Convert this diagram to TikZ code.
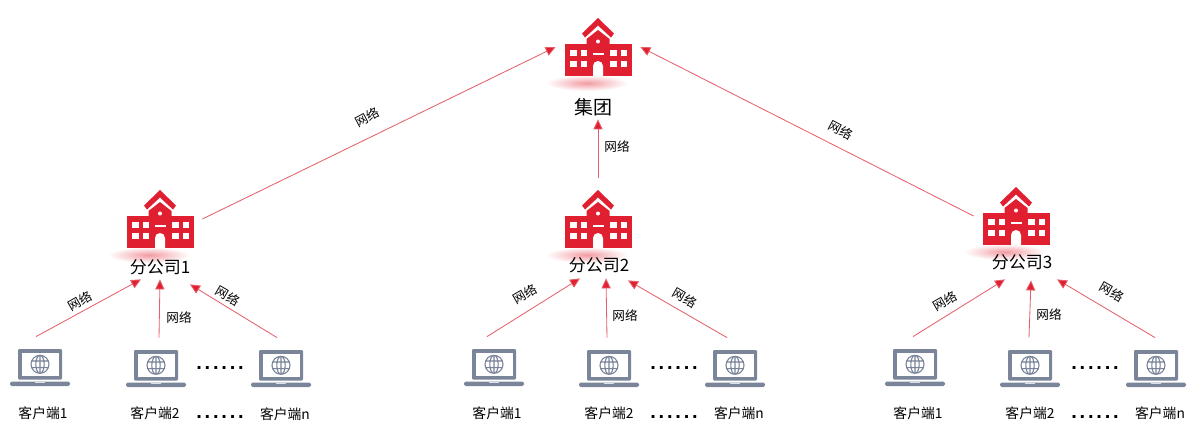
\documentclass[tikz,border=0pt]{standalone}
\usepackage{fontspec}
\setmainfont{Noto Sans CJK SC}
\newfontfamily\dotfont[LetterSpace=14]{Liberation Sans}
\usepackage{xcolor}
\usetikzlibrary{arrows.meta, positioning}
\definecolor{bldred}{RGB}{224,32,48}
\definecolor{linered}{RGB}{228,96,106}
\definecolor{pcgray}{RGB}{122,133,153}

\tikzset{
  building/.pic={
    \shade[inner color=bldred!45, outer color=white, draw=none] (-11,36) ellipse (41 and 8);
    \fill[bldred] (-33.5,-3) rectangle (33.5,29);
    \fill[bldred] (-11.5,0) -- (-11.5,-8) -- (0,-17) -- (11.5,-8) -- (11.5,0) -- cycle;
    \fill[bldred] (0,-29) -- (16,-13.5) -- (13,-9.5) -- (0,-21.5) -- (-13,-9.5) -- (-16,-13.5) -- cycle;
    \fill[white] (0,-5.5) circle (2);
    \foreach \wx in {-28,-17.5,12,22.5} \foreach \wy in {3,13.5}
      \fill[white] (\wx,\wy) rectangle ++(6.8,6);
    \fill[white] (-5.5,6.4) rectangle (5.5,7.6);
    \fill[white] (-5,29) -- (-5,19) arc[start angle=180, end angle=360, radius=5] -- (5,29) -- cycle;
  },
  laptop/.pic={
    \fill[pcgray, rounded corners=.6pt] (-22,-19) rectangle (22,11.5);
    \fill[white] (-18.5,-15.5) rectangle (18.5,8);
    \fill[pcgray, rounded corners=.8pt] (-30,13.5) rectangle (30,18);
    \fill[white!75!pcgray] (-5,13.5) rectangle (5,15);
    \draw[pcgray, line width=.55pt] (0,-3.7) circle (9) (0,-3.7) ellipse (4.2 and 9)
      (0,-12.7) -- (0,5.3) (-8.2,-7) -- (8.2,-7) (-8.2,-.4) -- (8.2,-.4);
  }
}

\begin{document}
\begin{tikzpicture}[
    x=.5pt, y=-.5pt,
    site/.style={minimum width=42pt, minimum height=44pt, inner sep=0pt},
    client/.style={minimum width=30pt, minimum height=31pt, inner sep=0pt},
    sitename/.style={font=\fontsize{8.5}{10}\selectfont, inner sep=0pt, minimum height=12pt},
    clientname/.style={font=\fontsize{6.9}{8}\selectfont, inner sep=0pt},
    net/.style={font=\fontsize{6.3}{8}\selectfont, inner sep=0pt},
    more/.style={font=\dotfont\bfseries\fontsize{10}{12}\selectfont, inner sep=0pt},
    link/.style={draw=linered, line width=.42pt, -{Triangle[length=5pt, width=4.6pt, fill=bldred]}}
  ]
  \useasboundingbox (0,0) rectangle (1200,445);

  % sites
  \node[site] (hq) at (598,47) {};
  \node[site] (b1) at (160,219) {};
  \node[site] (b2) at (598,222) {};
  \node[site] (b3) at (1016,216) {};
  \pic at (hq) {building};
  \pic at (b1) {building};
  \pic at (598,219) {building};
  \pic at (b3) {building};

  \node[sitename, font=\fontsize{9.5}{11}\selectfont] (hqname) at (593,107) {集团};
  \node[sitename] (b1name) at (160,267) {分公司1};
  \node[sitename] (b2name) at (599,265) {分公司2};
  \node[sitename] (b3name) at (1022,262) {分公司3};

  % clients
  \node[client] (c11) at (40,368) {};
  \node[client] (c12) at (156,369) {};
  \node[client] (c13) at (281,369) {};
  \node[client] (c21) at (494,368) {};
  \node[client] (c22) at (609,369) {};
  \node[client] (c23) at (735,369) {};
  \node[client] (c31) at (915,368) {};
  \node[client] (c32) at (1030,369) {};
  \node[client] (c33) at (1156,369) {};
  \pic at (c11) {laptop};
  \pic at (c12) {laptop};
  \pic at (c13) {laptop};
  \pic at (c21) {laptop};
  \pic at (c22) {laptop};
  \pic at (c23) {laptop};
  \pic at (c31) {laptop};
  \pic at (c32) {laptop};
  \pic at (c33) {laptop};

  \node[clientname] (c11name) at (43,413) {客户端1};
  \node[clientname] (c12name) at (155,413) {客户端2};
  \node[clientname] (c13name) at (285,414) {客户端n};
  \node[clientname] (c21name) at (497,413) {客户端1};
  \node[clientname] (c22name) at (609,413) {客户端2};
  \node[clientname] (c23name) at (739,413) {客户端n};
  \node[clientname] (c31name) at (918,413) {客户端1};
  \node[clientname] (c32name) at (1030,413) {客户端2};
  \node[clientname] (c33name) at (1160,413) {客户端n};

  % dots between clients
  \node[more] (m11) at (220,368) {......};
  \node[more] (m12) at (220,417) {......};
  \node[more] (m21) at (674,368) {......};
  \node[more] (m22) at (674,417) {......};
  \node[more] (m31) at (1095,368) {......};
  \node[more] (m32) at (1095,417) {......};

  % links to the group
  \draw[link] (b1.east) -- (hq.west);
  \draw[link] (b2.north) -- ([shift={(5,0)}]hqname.south);
  \draw[link] (b3.west) -- (hq.east);
  \node[net, rotate=28] (n1) at (367,117) {网络};
  \node[net] (n2) at (617,147) {网络};
  \node[net, rotate=-28] (n3) at (841,130) {网络};

  % links inside branch 1
  \draw[link] ([shift={(-4,0)}]c11.north) -- ([shift={(-19,0)}]b1name.south);
  \draw[link] ([shift={(3,0)}]c12.north) -- (b1name.south);
  \draw[link] ([shift={(-4,0)}]c13.north) -- ([shift={(30,5)}]b1name.south);
  \node[net, rotate=30] (n11) at (80,301) {网络};
  \node[net] (n12) at (179,318) {网络};
  \node[net, rotate=-30] (n13) at (228,296) {网络};

  % links inside branch 2
  \draw[link] ([shift={(-7,0)}]c21.north) -- ([shift={(-19,1)}]b2name.south);
  \draw[link] ([shift={(-2,0)}]c22.north) -- ([shift={(7,1)}]b2name.south);
  \draw[link] ([shift={(-8,0)}]c23.north) -- ([shift={(29,3)}]b2name.south);
  \node[net, rotate=30] (n21) at (525,294) {网络};
  \node[net] (n22) at (625,316) {网络};
  \node[net, rotate=-30] (n23) at (685,298) {网络};

  % links inside branch 3
  \draw[link] ([shift={(-2,0)}]c31.north) -- ([shift={(-17,5)}]b3name.south);
  \draw[link] ([shift={(-1,0)}]c32.north) -- ([shift={(9,6)}]b3name.south);
  \draw[link] ([shift={(-1,0)}]c33.north) -- ([shift={(35,5)}]b3name.south);
  \node[net, rotate=30] (n31) at (945,301) {网络};
  \node[net] (n32) at (1049,315) {网络};
  \node[net, rotate=-30] (n33) at (1112,292) {网络};
\end{tikzpicture}
\end{document}
